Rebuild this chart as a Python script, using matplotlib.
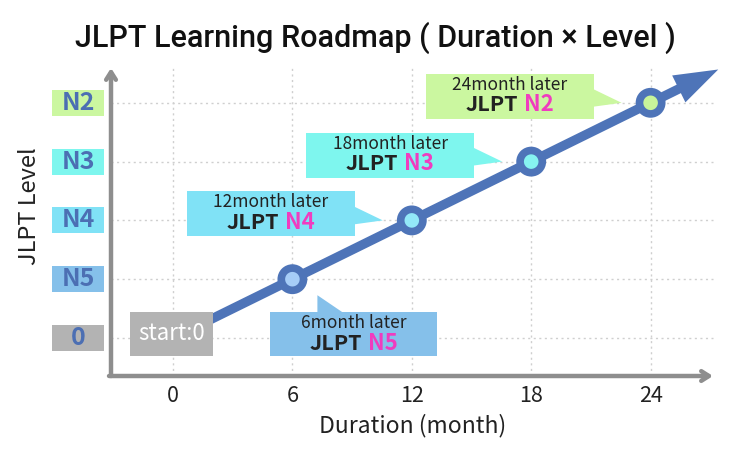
import numpy as np
import matplotlib
matplotlib.use("Agg")
from matplotlib import pyplot as plt
from matplotlib.patches import Polygon, Rectangle
from matplotlib.transforms import IdentityTransform

# data
months = [0, 6, 12, 18, 24]
levels = [0, 1, 2, 3, 4]
level_names = ["0", "N5", "N4", "N3", "N2"]
level_colors = ["#b3b3b3", "#85c0ea", "#80e2f6", "#7ef6ee", "#cbf7a0"]
point_fill = ["#b3b3b3", "#a6cdf7", "#93e8f8", "#86f3f0", "#c8f49a"]
callout_top = ["start:0", "6month later", "12month later", "18month later", "24month later"]

LINE_BLUE = "#4e74b8"
AXIS_GREY = "#8e8e8e"
PINK = "#f03cbf"
LABEL_BLUE = "#4c6fb3"
FONT = ["Noto Sans CJK JP", "DejaVu Sans"]

W, H = 750, 454
fig = plt.figure(figsize=(W / 100, H / 100), dpi=100)
ax = fig.add_axes([0, 0, 1, 1])
ax.axis("off")
# pixel layout: month 0 at x=173, 19.9 px/month; level 0 at y=338 (from top), 58.8 px/level
ax.set_xlim(-173 / 19.9, (W - 173) / 19.9)
ax.set_ylim((338 - H) / 58.8, 338 / 58.8)

ident = IdentityTransform()


def disp(m, l):
    return ax.transData.transform((m, l))


def from_top(py):
    # y pixel measured from the top -> display coords
    return H - py


inv = ax.transData.inverted()
x_left, x_right = inv.transform((111, 0))[0], inv.transform((713, 0))[0]
y_bot = inv.transform((0, from_top(376)))[1]
y_top = inv.transform((0, from_top(68)))[1]

# grid
for m in months:
    ax.plot([m, m], [y_bot, y_top + 0.05], ls=(0, (1.5, 2.5)), color="#cfcfcf", lw=1, zorder=1)
for l in levels:
    ax.plot([x_left, x_right], [l, l], ls=(0, (1.5, 2.5)), color="#cfcfcf", lw=1, zorder=1)

# axes arrows
ax.annotate("", xy=(x_left, y_top), xytext=(x_left, y_bot),
            arrowprops=dict(arrowstyle="->,head_length=0.55,head_width=0.35", lw=3.2,
                            color=AXIS_GREY, shrinkA=0, shrinkB=0), zorder=2)
ax.annotate("", xy=(x_right, y_bot), xytext=(x_left - 0.1, y_bot),
            arrowprops=dict(arrowstyle="->,head_length=0.55,head_width=0.35", lw=3.2,
                            color=AXIS_GREY, shrinkA=0, shrinkB=0), zorder=2)

# tick labels
for m in months:
    x, _ = disp(m, 0)
    ax.text(x, from_top(396), str(m), transform=ident, ha="center", va="center",
            fontsize=15.5, family=FONT, color="#222222")
for l, name, c in zip(levels, level_names, level_colors):
    _, y = disp(0, l)
    ax.add_patch(Rectangle((52, y - 13), 52, 26, transform=ident, facecolor=c, edgecolor="none"))
    ax.text(78, y, name, transform=ident, ha="center", va="center", fontsize=18,
            fontweight="bold", family=FONT, color=LABEL_BLUE)

ax.text(413, from_top(426), "Duration (month)", transform=ident, ha="center", va="center",
        fontsize=16.5, family=FONT, color="#222222")
ax.text(30, from_top(206), "JLPT Level", transform=ident, ha="center", va="center",
        rotation=90, fontsize=17, family=FONT, color="#222222")
ax.text(375, from_top(38), "JLPT Learning Roadmap ( Duration \u00d7 Level )", transform=ident,
        ha="center", va="center", fontsize=22, fontweight="medium",
        family=["Roboto", "DejaVu Sans"], color="#111111")

# roadmap line, extended beyond the last point along the same slope, with a filled head
slope = (levels[-1] - levels[0]) / (months[-1] - months[0])
ext = 3.4
end = (months[-1] + ext, levels[-1] + slope * ext)
tip = disp(*end)
start = disp(months[0], levels[0])
u = (tip - start) / np.hypot(*(tip - start))
n = np.array([-u[1], u[0]])
head_len, head_half = 44, 15
base = tip - head_len * u
ax.plot([start[0], base[0] + 4 * u[0]], [start[1], base[1] + 4 * u[1]], transform=ident,
        color=LINE_BLUE, lw=6.8, solid_capstyle="butt", zorder=3)
ax.add_patch(Polygon([tip, base + head_half * n, base - head_half * n], closed=True,
                     transform=ident, facecolor=LINE_BLUE, edgecolor="none", zorder=3))
ax.scatter(months[1:], levels[1:], s=16 ** 2, c=point_fill[1:], edgecolors=LINE_BLUE,
           linewidths=5.5, zorder=4)

# callouts (box offsets in pixels relative to each point, y down)
for i, (m, l) in enumerate(zip(months, levels)):
    px, py = disp(m, l)
    if i == 0:
        x0, x1, y0, y1 = -43, 40, -26, 18
        tail = None
    elif i == 1:
        x0, x1, y0, y1 = -22, 145, 33, 77
        tail = [(25, 33), (50, 33), (25, 16)]
    else:
        x0, x1, y0, y1 = -225, -57, -29, 16
        tail = [(-58, -14), (-29, 0), (-58, 4)]
    bx0, bx1 = px + x0, px + x1
    by0, by1 = py - y1, py - y0
    ax.add_patch(Rectangle((bx0, by0), bx1 - bx0, by1 - by0, transform=ident,
                           facecolor=level_colors[i], edgecolor="none", zorder=5))
    if tail is not None:
        ax.add_patch(Polygon([(px + dx, py - dy) for dx, dy in tail], closed=True,
                             transform=ident, facecolor=level_colors[i], edgecolor="none",
                             zorder=5))
    cx = (bx0 + bx1) / 2
    if i == 0:
        ax.text(cx, (by0 + by1) / 2, callout_top[i], transform=ident, ha="center", va="center",
                fontsize=16, family=FONT, color="white", zorder=6)
    else:
        ax.text(cx, by1 - 11, callout_top[i], transform=ident, ha="center", va="center",
                fontsize=12.5, family=FONT, color="#222222", zorder=6)
        ax.text(cx + 8, by1 - 31, "JLPT", transform=ident, ha="right", va="center",
                fontsize=15.5, fontweight="bold", family=FONT, color="#222222", zorder=6)
        ax.text(cx + 14, by1 - 31, level_names[i], transform=ident, ha="left", va="center",
                fontsize=16, fontweight="bold", family=FONT, color=PINK, zorder=6)

fig.savefig("out.png", dpi=100)
